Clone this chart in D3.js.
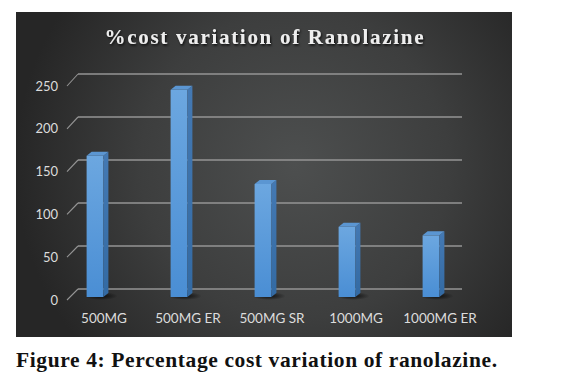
<!DOCTYPE html>
<html><head><meta charset="utf-8">
<script src="https://cdn.jsdelivr.net/npm/d3@7"></script>
<style>html,body{margin:0;padding:0;background:#fff;}svg{display:block;}</style>
</head><body>
<svg id="chart" width="570" height="388"></svg>
<script>
const categories = ["500MG", "500MG ER", "500MG SR", "1000MG", "1000MG ER"];
const values = [165, 242, 132, 82, 72];
const tickValues = [0, 50, 100, 150, 200, 250];
const titleText = "%cost variation of Ranolazine";
const captionText = "Figure 4: Percentage cost variation of ranolazine.";

const svg = d3.select("#chart");
const defs = svg.append("defs");

const rg = defs.append("radialGradient").attr("id","bg")
  .attr("gradientUnits","userSpaceOnUse").attr("cx",295).attr("cy",165).attr("r",280);
rg.append("stop").attr("offset","0%").attr("stop-color","#4d4f4f");
rg.append("stop").attr("offset","55%").attr("stop-color","#3d3e3e");
rg.append("stop").attr("offset","100%").attr("stop-color","#262626");

const fg = defs.append("linearGradient").attr("id","front").attr("x1",0).attr("y1",0).attr("x2",0).attr("y2",1);
fg.append("stop").attr("offset","0%").attr("stop-color","#6ca7e0");
fg.append("stop").attr("offset","100%").attr("stop-color","#4a8ed4");
const sg = defs.append("linearGradient").attr("id","side").attr("x1",0).attr("y1",0).attr("x2",0).attr("y2",1);
sg.append("stop").attr("offset","0%").attr("stop-color","#4479b3");
sg.append("stop").attr("offset","100%").attr("stop-color","#336aa3");
const sh = defs.append("radialGradient").attr("id","shadow");
sh.append("stop").attr("offset","0%").attr("stop-color","#000").attr("stop-opacity",0.75);
sh.append("stop").attr("offset","100%").attr("stop-color","#000").attr("stop-opacity",0);

const tf = defs.append("filter").attr("id","tshadow").attr("x","-5%").attr("y","-30%").attr("width","110%").attr("height","160%");
tf.append("feDropShadow").attr("dx",1).attr("dy",1.5).attr("stdDeviation",1.2).attr("flood-color","#000").attr("flood-opacity",0.8);

svg.append("rect").attr("x",16).attr("y",12).attr("width",496).attr("height",325).attr("fill","url(#bg)");

const yFront = d3.scaleLinear().domain([0,250]).range([300,86]);
const yBack  = d3.scaleLinear().domain([0,250]).range([289,74]);
const yBar   = d3.scaleLinear().domain([0,250]).range([297,83]);
const x = d3.scaleBand().domain(categories).range([53,473]).paddingInner(0.8).paddingOuter(0.4);

const grid = svg.append("g");
tickValues.forEach(t => {
  grid.append("line").attr("x1",78).attr("x2",462).attr("y1",yBack(t)).attr("y2",yBack(t))
    .attr("stroke","#959595").attr("stroke-width",1.3);
  grid.append("line").attr("x1",67).attr("x2",78).attr("y1",yFront(t)).attr("y2",yBack(t))
    .attr("stroke","#959595").attr("stroke-width",1.1);
});

const yAxis = svg.append("g").attr("transform","translate(62,0)")
  .call(d3.axisLeft(yFront).tickValues(tickValues).tickSize(0).tickPadding(4));
yAxis.select(".domain").remove();
yAxis.selectAll("text").attr("fill","#dcdcdc").attr("font-family","Lato, 'Open Sans', sans-serif").attr("font-size",13);

const depthX = 5, depthY = 4;
const bars = svg.append("g").selectAll("g").data(categories).join("g");
bars.append("ellipse")
  .attr("cx", d => x(d) + x.bandwidth()/2 + 6)
  .attr("cy", yBar(0) - 1)
  .attr("rx", x.bandwidth()*1.0).attr("ry",4)
  .attr("fill","url(#shadow)");
bars.append("rect")
  .attr("x", d => x(d)).attr("width", x.bandwidth())
  .attr("y", (d,i) => yBar(values[i]))
  .attr("height", (d,i) => yBar(0) - yBar(values[i]))
  .attr("fill","url(#front)");
bars.append("path")
  .attr("d", (d,i) => {
    const x1 = x(d) + x.bandwidth(), yt = yBar(values[i]), yb = yBar(0);
    return `M${x1},${yt}L${x1+depthX},${yt-depthY}L${x1+depthX},${yb-depthY}L${x1},${yb}Z`;
  })
  .attr("fill","url(#side)");
bars.append("path")
  .attr("d", (d,i) => {
    const x0 = x(d), x1 = x0 + x.bandwidth(), yt = yBar(values[i]);
    return `M${x0},${yt}L${x0+depthX},${yt-depthY}L${x1+depthX},${yt-depthY}L${x1},${yt}Z`;
  })
  .attr("fill","#5b96d2");

const xAxis = svg.append("g").attr("transform","translate(9,306)")
  .call(d3.axisBottom(x).tickSize(0).tickPadding(7));
xAxis.select(".domain").remove();
xAxis.selectAll("text").attr("fill","#dcdcdc").attr("font-family","Lato, 'Open Sans', sans-serif").attr("font-size",13.5);

svg.append("text").attr("x",264).attr("y",44).attr("text-anchor","middle")
  .attr("font-family","'Liberation Serif', 'Times New Roman', serif").attr("font-weight","bold")
  .attr("font-size",21).attr("fill","#eeeeee").attr("filter","url(#tshadow)")
  .attr("textLength",319).attr("lengthAdjust","spacing")
  .text(titleText);

svg.append("text").attr("x",16).attr("y",367)
  .attr("font-family","'Liberation Serif', 'Times New Roman', serif").attr("font-weight","bold")
  .attr("font-size",21.5).attr("fill","#111")
  .attr("textLength",481).attr("lengthAdjust","spacing")
  .text(captionText);
</script>
</body></html>
